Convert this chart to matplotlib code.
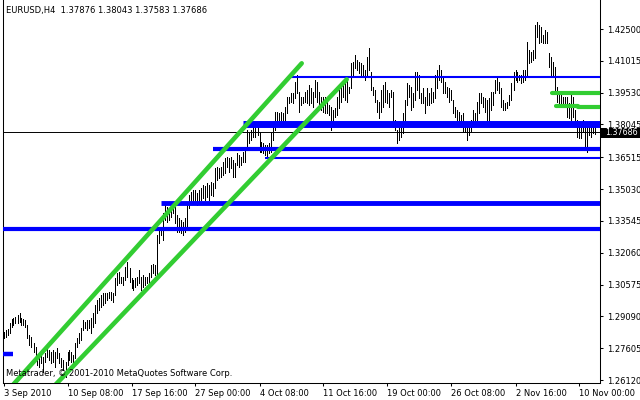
import matplotlib
matplotlib.use('Agg')
import matplotlib.pyplot as plt
from matplotlib.patches import Rectangle

plt.rcParams['font.family'] = 'DejaVu Sans'

# H4 bars, EURUSD, 3 Sep 2010 .. 11 Nov 2010 (high / low)
bar_high = [
    1.2837, 1.2845, 1.2849, 1.2877, 1.2895, 1.2900, 1.2907, 1.2915, 1.2923, 1.2900,
    1.2895, 1.2892, 1.2869, 1.2822, 1.2814, 1.2783, 1.2767, 1.2729, 1.2721, 1.2744,
    1.2721, 1.2737, 1.2767, 1.2752, 1.2744, 1.2752, 1.2744, 1.2760, 1.2737, 1.2713,
    1.2705, 1.2697, 1.2744, 1.2752, 1.2744, 1.2729, 1.2783, 1.2807, 1.2830, 1.2853,
    1.2892, 1.2884, 1.2892, 1.2892, 1.2900, 1.2923, 1.2962, 1.2985, 1.2993, 1.3009,
    1.3017, 1.3019, 1.3019, 1.3024, 1.3024, 1.3017, 1.3087, 1.3110, 1.3117, 1.3094,
    1.3094, 1.3141, 1.3164, 1.3133, 1.3087, 1.3079, 1.3087, 1.3094, 1.3125, 1.3094,
    1.3102, 1.3094, 1.3094, 1.3110, 1.3149, 1.3152, 1.3149, 1.3289, 1.3320, 1.3327,
    1.3390, 1.3444, 1.3421, 1.3413, 1.3429, 1.3437, 1.3421, 1.3382, 1.3367, 1.3359,
    1.3351, 1.3367, 1.3429, 1.3475, 1.3491, 1.3499, 1.3499, 1.3486, 1.3499, 1.3508,
    1.3522, 1.3517, 1.3531, 1.3522, 1.3536, 1.3531, 1.3601, 1.3607, 1.3600, 1.3607,
    1.3631, 1.3647, 1.3654, 1.3647, 1.3654, 1.3639, 1.3623, 1.3670, 1.3662, 1.3654,
    1.3677, 1.3685, 1.3779, 1.3771, 1.3779, 1.3794, 1.3797, 1.3794, 1.3771, 1.3724,
    1.3717, 1.3709, 1.3709, 1.3717, 1.3771, 1.3794, 1.3864, 1.3864, 1.3857, 1.3864,
    1.3857, 1.3888, 1.3934, 1.3934, 1.3950, 1.3950, 1.4004, 1.4035, 1.3958, 1.3934,
    1.3934, 1.3958, 1.3965, 1.3989, 1.3973, 1.3958, 1.4012, 1.4004, 1.3958, 1.3934,
    1.3934, 1.3934, 1.3919, 1.3895, 1.3888, 1.3872, 1.3880, 1.3934, 1.3965, 1.3981,
    1.3989, 1.4004, 1.4012, 1.3981, 1.4090, 1.4097, 1.4129, 1.4105, 1.4097, 1.4090,
    1.4082, 1.4059, 1.4121, 1.4160, 1.4051, 1.3981, 1.3965, 1.3919, 1.3911, 1.3965,
    1.3989, 1.4004, 1.3965, 1.3950, 1.3965, 1.3958, 1.3825, 1.3779, 1.3788, 1.3794,
    1.3857, 1.3919, 1.3997, 1.3989, 1.3981, 1.3950, 1.4051, 1.4051, 1.4035, 1.3950,
    1.3973, 1.3934, 1.3973, 1.3950, 1.3973, 1.3958, 1.4035, 1.4059, 1.4082, 1.4059,
    1.4027, 1.4004, 1.3981, 1.3973, 1.3965, 1.3919, 1.3888, 1.3872, 1.3864, 1.3849,
    1.3857, 1.3817, 1.3802, 1.3817, 1.3825, 1.3872, 1.3857, 1.3911, 1.3950, 1.3950,
    1.3934, 1.3927, 1.3919, 1.3927, 1.3958, 1.3958, 1.4012, 1.4020, 1.4004, 1.3973,
    1.3919, 1.3903, 1.3911, 1.3942, 1.3997, 1.4051, 1.4059, 1.4051, 1.4035, 1.4035,
    1.4059, 1.4059, 1.4191, 1.4152, 1.4144, 1.4152, 1.4269, 1.4284, 1.4269, 1.4261,
    1.4222, 1.4245, 1.4237, 1.4137, 1.4121, 1.4097, 1.4074, 1.3981, 1.3942, 1.3942,
    1.3934, 1.3934, 1.3934, 1.3903, 1.3942, 1.3934, 1.3872, 1.3825, 1.3802, 1.3817,
    1.3825, 1.3817, 1.3810, 1.3810, 1.3802, 1.3810, 1.38043,
]
bar_low = [
    1.2807, 1.2814, 1.2822, 1.2830, 1.2861, 1.2869, 1.2877, 1.2877, 1.2884, 1.2869,
    1.2869, 1.2861, 1.2807, 1.2775, 1.2767, 1.2744, 1.2729, 1.2682, 1.2674, 1.2690,
    1.2651, 1.2697, 1.2721, 1.2705, 1.2690, 1.2697, 1.2674, 1.2713, 1.2690, 1.2674,
    1.2659, 1.2627, 1.2682, 1.2705, 1.2697, 1.2690, 1.2713, 1.2767, 1.2783, 1.2799,
    1.2845, 1.2853, 1.2845, 1.2853, 1.2830, 1.2861, 1.2877, 1.2923, 1.2939, 1.2954,
    1.2962, 1.2973, 1.2985, 1.2993, 1.2985, 1.2977, 1.3009, 1.3055, 1.3063, 1.3063,
    1.3055, 1.3079, 1.3094, 1.3071, 1.3040, 1.3032, 1.3047, 1.3055, 1.3063, 1.3032,
    1.3047, 1.3055, 1.3063, 1.3063, 1.3094, 1.3110, 1.3102, 1.3102, 1.3250, 1.3289,
    1.3265, 1.3359, 1.3351, 1.3359, 1.3374, 1.3390, 1.3343, 1.3304, 1.3304, 1.3297,
    1.3289, 1.3304, 1.3312, 1.3413, 1.3444, 1.3437, 1.3444, 1.3429, 1.3438, 1.3452,
    1.3461, 1.3452, 1.3466, 1.3452, 1.3475, 1.3471, 1.3508, 1.3545, 1.3553, 1.3561,
    1.3569, 1.3577, 1.3607, 1.3584, 1.3600, 1.3561, 1.3561, 1.3615, 1.3607, 1.3615,
    1.3631, 1.3631, 1.3685, 1.3717, 1.3732, 1.3747, 1.3747, 1.3755, 1.3677, 1.3677,
    1.3670, 1.3662, 1.3654, 1.3670, 1.3677, 1.3732, 1.3779, 1.3817, 1.3825, 1.3825,
    1.3817, 1.3802, 1.3857, 1.3903, 1.3911, 1.3903, 1.3927, 1.3950, 1.3864, 1.3895,
    1.3903, 1.3911, 1.3903, 1.3895, 1.3903, 1.3888, 1.3934, 1.3911, 1.3888, 1.3872,
    1.3864, 1.3857, 1.3857, 1.3849, 1.3779, 1.3817, 1.3841, 1.3849, 1.3880, 1.3911,
    1.3934, 1.3919, 1.3911, 1.3950, 1.3973, 1.4027, 1.4067, 1.4059, 1.4043, 1.4035,
    1.4027, 1.4012, 1.4027, 1.4059, 1.3965, 1.3942, 1.3911, 1.3864, 1.3833, 1.3864,
    1.3888, 1.3911, 1.3903, 1.3888, 1.3934, 1.3794, 1.3779, 1.3717, 1.3732, 1.3747,
    1.3763, 1.3817, 1.3895, 1.3934, 1.3872, 1.3888, 1.3919, 1.3965, 1.3927, 1.3903,
    1.3903, 1.3857, 1.3895, 1.3895, 1.3903, 1.3911, 1.3927, 1.3973, 1.4012, 1.4004,
    1.3950, 1.3950, 1.3934, 1.3911, 1.3919, 1.3857, 1.3841, 1.3817, 1.3810, 1.3794,
    1.3771, 1.3771, 1.3732, 1.3755, 1.3771, 1.3802, 1.3810, 1.3817, 1.3857, 1.3903,
    1.3888, 1.3864, 1.3810, 1.3810, 1.3872, 1.3895, 1.3950, 1.3965, 1.3950, 1.3888,
    1.3872, 1.3872, 1.3880, 1.3895, 1.3919, 1.3965, 1.4012, 1.4004, 1.4012, 1.3997,
    1.4004, 1.4012, 1.4027, 1.4090, 1.4097, 1.4105, 1.4113, 1.4214, 1.4183, 1.4191,
    1.4183, 1.4183, 1.4183, 1.4074, 1.4035, 1.4027, 1.3965, 1.3911, 1.3903, 1.3888,
    1.3903, 1.3888, 1.3841, 1.3833, 1.3825, 1.3841, 1.3810, 1.3747, 1.3740, 1.3740,
    1.3771, 1.3701, 1.3677, 1.3755, 1.3747, 1.3763, 1.37583,
]
last_ohlc = [1.37876, 1.38043, 1.37583, 1.37686]

date_bars = [0, 32, 64, 96, 128, 160, 192, 224, 256, 288]
date_labels = ['3 Sep 2010', '10 Sep 08:00', '17 Sep 16:00', '27 Sep 00:00',
               '4 Oct 08:00', '11 Oct 16:00', '19 Oct 00:00', '26 Oct 08:00',
               '2 Nov 16:00', '10 Nov 00:00']
price_ticks = [1.42500, 1.41015, 1.39530, 1.38045, 1.36515, 1.35030,
               1.33545, 1.32060, 1.30575, 1.29090, 1.27605, 1.26120]

# horizontal levels (blue): price, start bar
blue_prices = [1.4026, 1.3809, 1.3690, 1.36495, 1.3437, 1.3317]
blue_start = [143.3, 119.8, 104.6, 130.8, 78.75, -0.5]
blue_lw = [1.5, 5.0, 3.0, 1.5, 3.5, 3.0]
# short blue stub at the left
stub_price = 1.2733
stub_bars = [-0.5, 4.75]

# green trend lines (bar, price)
up_bars, up_prices = [5, 149.1], [1.2592, 1.4090]
lo_bars, lo_prices = [26, 171.6], [1.2590, 1.4015]
# short green lines at the right
g_prices = [1.3951, 1.3889, 1.3885]
g_bars = [[274.25, 299], [276.25, 287.5], [287.5, 299]]

BLUE = '#0000ff'
GREEN = '#32cd32'

fig = plt.figure(figsize=(6.4, 4.0), dpi=100)
ax = fig.add_axes([2.5 / 640, 17 / 400, 597.5 / 640, 383 / 400])

idx = list(range(len(bar_high)))
# 1px bars, no smoothing (MT4 look)
ax.vlines(idx, bar_low, bar_high, colors='black', linewidth=0.5,
          antialiased=False, zorder=2)

# bid line
ax.axhline(last_ohlc[3], color='black', linewidth=0.7, zorder=3)

for p, s, w in zip(blue_prices, blue_start, blue_lw):
    ax.plot([s, 300], [p, p], color=BLUE, linewidth=w,
            solid_capstyle='butt', zorder=4)
ax.plot(stub_bars, [stub_price, stub_price], color=BLUE, linewidth=3.2,
        solid_capstyle='butt', zorder=4)

ax.plot(up_bars, up_prices, color=GREEN, linewidth=3.3,
        solid_capstyle='round', zorder=5)
ax.plot(lo_bars, lo_prices, color=GREEN, linewidth=3.3,
        solid_capstyle='round', zorder=5)
for p, b in zip(g_prices, g_bars):
    ax.plot(b, [p, p], color=GREEN, linewidth=3.0,
            solid_capstyle='round', zorder=5)

ax.set_xlim(-0.5, 298.25)
ax.set_ylim(1.2598, 1.43855)

ax.spines['top'].set_visible(False)
for side in ['left', 'right', 'bottom']:
    ax.spines[side].set_linewidth(0.75)

ax.yaxis.tick_right()
ax.set_yticks(price_ticks)
ax.set_yticklabels(['%.5f' % v for v in price_ticks])
ax.set_xticks(date_bars)
ax.set_xticklabels(date_labels, ha='left')
ax.tick_params(axis='y', direction='out', length=2.5, width=0.75,
               pad=2.5, labelsize=6)
ax.tick_params(axis='x', direction='out', length=2.5, width=0.75,
               pad=1.5, labelsize=6)

fig.text(6 / 640, 1 - 10 / 400,
         'EURUSD,H4  %.5f %.5f %.5f %.5f' % tuple(last_ohlc),
         fontsize=6, va='center', ha='left')
fig.text(6 / 640, 1 - 374 / 400,
         'Metatrader, \u00a9 2001-2010 MetaQuotes Software Corp.',
         fontsize=6, va='center', ha='left')

# current price label on the scale
fig.patches.append(Rectangle((601 / 640, (400 - 138) / 400), 39 / 640, 10.5 / 400,
                             transform=fig.transFigure, facecolor='black',
                             edgecolor='none', zorder=10))
fig.text(605 / 640, (400 - 132.7) / 400, '%.5f' % last_ohlc[3],
         color='white', fontsize=5.8, va='center', ha='left', zorder=11)

fig.savefig('out.png', dpi=100)
